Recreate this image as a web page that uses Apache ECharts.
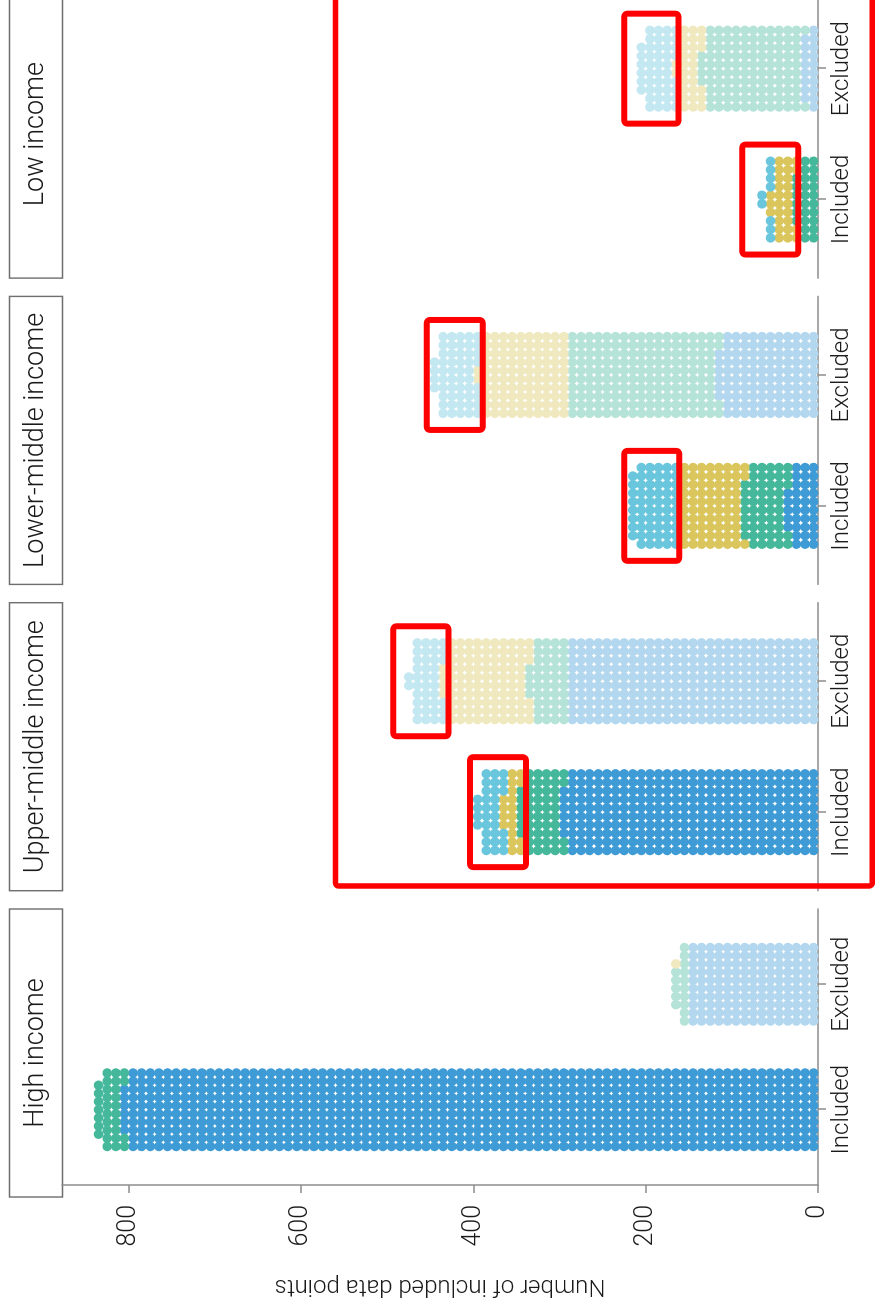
<!DOCTYPE html>
<html>
<head>
<meta charset="utf-8">
<script src="https://cdn.jsdelivr.net/npm/echarts@6/dist/echarts.min.js"></script>
<style>
  html, body { margin: 0; padding: 0; width: 875px; height: 1299px; overflow: hidden; background: #fff; }
  /* The faceted chart is laid out landscape and turned a quarter turn counter-clockwise. */
  #chart { position: absolute; left: 0; top: 0; width: 1310px; height: 875px;
           transform-origin: 0 0; transform: translate(0, 1299px) rotate(-90deg); }
</style>
</head>
<body>
<div id="chart"></div>
<script>
// ---- data -------------------------------------------------------------
const panels = ['High income', 'Upper-middle income', 'Lower-middle income', 'Low income'];
const statuses = ['Included', 'Excluded'];
const sourceGroups = ['Group 1', 'Group 2', 'Group 3', 'Group 4'];

// number of data points per source group (one dot = one data point)
const highIncluded      = [806, 31, 0, 0];
const highExcluded      = [150, 15, 1, 0];
const upperMidIncluded  = [296, 50, 18, 30];
const upperMidExcluded  = [290, 44, 100, 38];
const lowerMidIncluded  = [35, 52, 73, 58];
const lowerMidExcluded  = [116, 174, 102, 52];
const lowIncluded       = [0, 26, 27, 9];
const lowExcluded       = [18, 116, 28, 44];

const valueTicks = [0, 200, 400, 600, 800];

// highlighted stretches: [panel, status, from, to]
const highlightPanel  = [1, 1, 2, 2, 3, 3];
const highlightStatus = [0, 1, 0, 1, 0, 1];
const highlightFrom   = [339, 429, 161, 389, 23, 162];
const highlightTo     = [404, 493, 225, 454, 88, 225];

// outer frame around the three lower-income panels
const framePanel = 1;
const frameCatStart = 0.436;
const frameValueRange = [-63, 560];

const counts = [
  [highIncluded, highExcluded],
  [upperMidIncluded, upperMidExcluded],
  [lowerMidIncluded, lowerMidExcluded],
  [lowIncluded, lowExcluded]
];

// ---- styling ------------------------------------------------------------
const includedColors = ['#3e9bd5', '#45b89b', '#dac65c', '#69c6dc'];
function tint(hex, a) {
  const n = parseInt(hex.slice(1), 16);
  const c = [(n >> 16) & 255, (n >> 8) & 255, n & 255].map(v => Math.round(v * a + 255 * (1 - a)));
  return 'rgb(' + c.join(',') + ')';
}
const excludedColors = includedColors.map(c => tint(c, 0.4));
const statusColors = [includedColors, excludedColors];

const FONT = 'Roboto, "Liberation Sans", sans-serif';
const PER_ROW = 10;          // dots per row of a bar
const ACROSS = 0.065;        // dot pitch across a bar, in category units
const DOT = 9.6;             // dot diameter, px

const GRID_LEFT0 = 102, GRID_STEP = 306.3, GRID_W = 288, GRID_TOP = 62, GRID_H = 756;
const STRIP_TOP = 9.5, STRIP_H = 53;

// waffle layout: rows of PER_ROW dots stacked along the value axis,
// each row filled from the centre outwards
function waffle(groupCounts, catPos) {
  const owner = [];
  groupCounts.forEach((n, g) => { for (let i = 0; i < n; i++) owner.push(g); });
  const out = groupCounts.map(() => []);
  const rows = Math.ceil(owner.length / PER_ROW);
  for (let r = 0; r < rows; r++) {
    const start = r * PER_ROW;
    const m = Math.min(PER_ROW, owner.length - start);
    const offs = [];
    for (let j = 0; j < m; j++) offs.push(j - (m - 1) / 2);
    offs.sort((a, b) => Math.abs(a) - Math.abs(b) || a - b);
    for (let k = 0; k < m; k++) {
      out[owner[start + k]].push([catPos + offs[k] * ACROSS, (r + 0.5) * PER_ROW]);
    }
  }
  return out;
}

const grids = [], xAxes = [], yAxes = [], series = [], graphics = [];
panels.forEach((title, p) => {
  const left = GRID_LEFT0 + p * GRID_STEP;
  grids.push({ left: left, top: GRID_TOP, width: GRID_W, height: GRID_H });
  xAxes.push({
    gridIndex: p, type: 'value', min: 0.4, max: 2.6,
    axisLine: { show: true, onZero: false, lineStyle: { color: '#8c8c8c', width: 1.5 } },
    axisTick: { show: true, length: 8, customValues: [1, 2], lineStyle: { color: '#8c8c8c', width: 1.5 } },
    axisLabel: { customValues: [1, 2], formatter: v => statuses[Math.round(v) - 1],
                 fontSize: 24, fontFamily: FONT, fontWeight: 300, color: '#1a1a1a', margin: 12 },
    splitLine: { show: false }
  });
  yAxes.push({
    gridIndex: p, type: 'value', min: 0, max: 877.5, show: p === 0,
    name: p === 0 ? 'Number of included data points' : '',
    nameLocation: 'middle', nameRotate: 90, nameGap: 89,
    nameTextStyle: { fontSize: 24, fontFamily: FONT, fontWeight: 300, color: '#1a1a1a' },
    axisLine: { show: true, onZero: false, lineStyle: { color: '#8c8c8c', width: 1.5 } },
    axisTick: { show: true, length: 8, customValues: valueTicks, lineStyle: { color: '#8c8c8c', width: 1.5 } },
    axisLabel: { customValues: valueTicks, fontSize: 25, fontFamily: FONT, fontWeight: 300, color: '#1a1a1a', margin: 20 },
    splitLine: { show: false }
  });

  statuses.forEach((st, s) => {
    const dots = waffle(counts[p][s], s + 1);
    dots.forEach((pts, g) => {
      if (!pts.length) return;
      series.push({
        type: 'scatter', name: st + ' ' + sourceGroups[g],
        xAxisIndex: p, yAxisIndex: p, data: pts,
        symbol: 'circle', symbolSize: DOT, silent: true,
        itemStyle: { color: statusColors[s][g], opacity: 1 }
      });
    });
  });

  // facet strip
  graphics.push({
    type: 'rect', shape: { x: left, y: STRIP_TOP, width: GRID_W, height: STRIP_H },
    style: { fill: '#fff', stroke: '#6e6e6e', lineWidth: 1.4 }, silent: true
  });
  graphics.push({
    type: 'text', x: left + GRID_W / 2, y: STRIP_TOP + STRIP_H / 2,
    style: { text: title, fontSize: 27, fontFamily: FONT, fontWeight: 300, fill: '#1a1a1a',
             align: 'center', verticalAlign: 'middle' }, silent: true
  });
});

const chart = echarts.init(document.getElementById('chart'), null, { renderer: 'canvas' });
chart.setOption({
  animation: false,
  backgroundColor: '#fff',
  grid: grids, xAxis: xAxes, yAxis: yAxes, series: series, graphic: graphics
});

// red highlight boxes, placed through each panel's scales, drawn above the dots
highlightPanel.forEach((hp, i) => {
  const c = highlightStatus[i] + 1;
  const a = chart.convertToPixel({ gridIndex: hp }, [c - 0.42, highlightTo[i]]);
  const b = chart.convertToPixel({ gridIndex: hp }, [c + 0.42, highlightFrom[i]]);
  graphics.push({
    type: 'rect', z: 100,
    shape: { x: Math.min(a[0], b[0]), y: Math.min(a[1], b[1]),
             width: Math.abs(b[0] - a[0]), height: Math.abs(b[1] - a[1]), r: 3 },
    style: { fill: 'none', stroke: '#ff0000', lineWidth: 6 }, silent: true
  });
});

// outer frame, placed through the value scale of its panel
const pTop = chart.convertToPixel({ gridIndex: framePanel }, [frameCatStart, frameValueRange[1]]);
const pBot = chart.convertToPixel({ gridIndex: framePanel }, [frameCatStart, frameValueRange[0]]);
graphics.push({
  type: 'rect', z: 100,
  shape: { x: pTop[0], y: pTop[1], width: 1400 - pTop[0], height: pBot[1] - pTop[1], r: 3 },
  style: { fill: 'none', stroke: '#ff0000', lineWidth: 5.5 }, silent: true
});
chart.setOption({ graphic: graphics });
</script>
</body>
</html>
